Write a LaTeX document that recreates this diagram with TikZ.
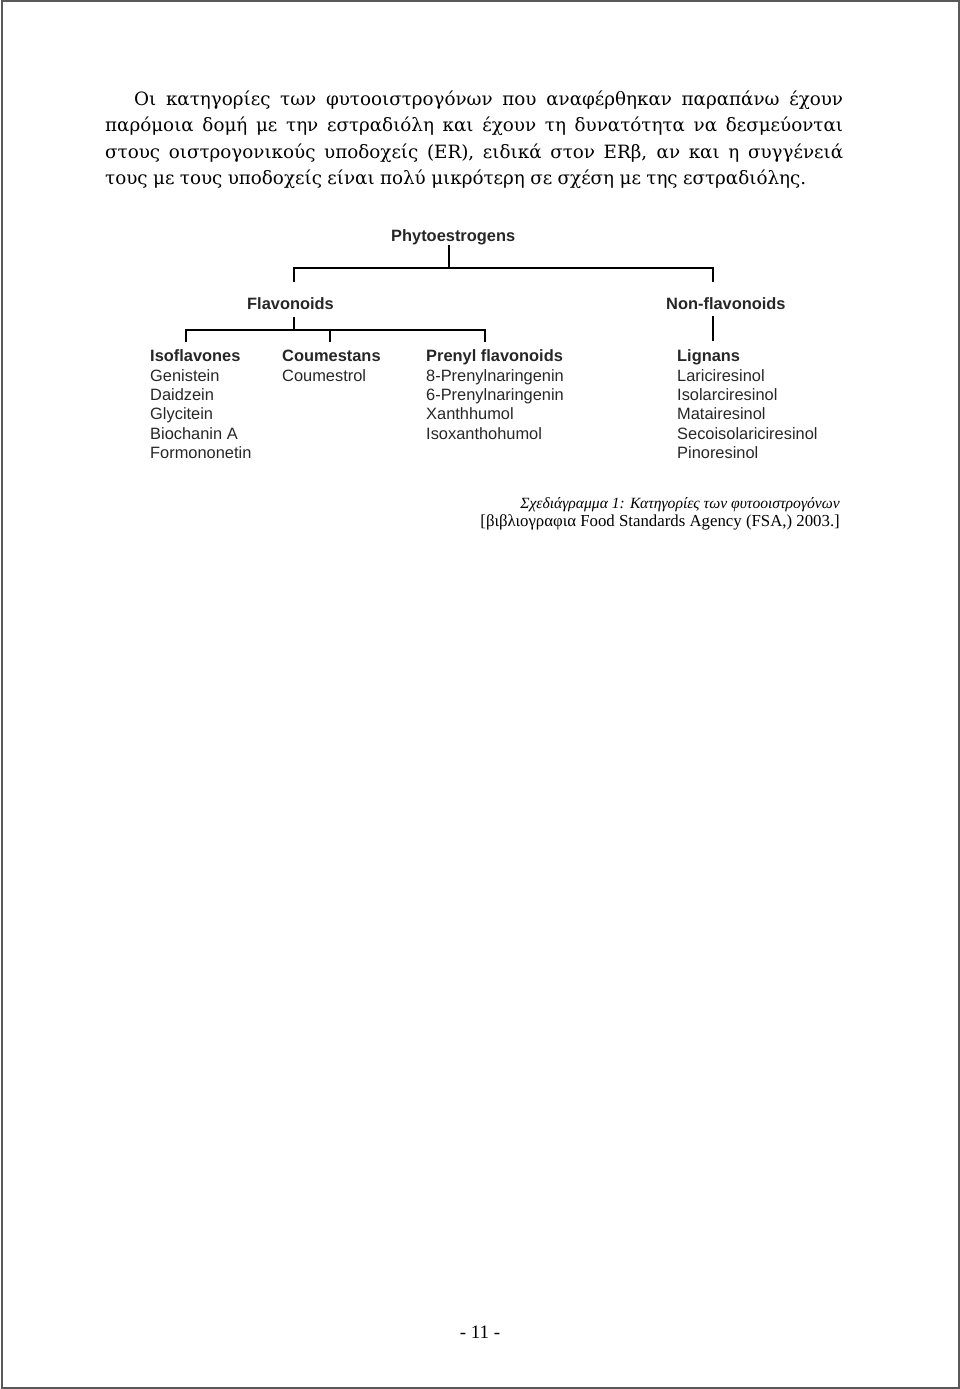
\documentclass[tikz,border=0pt]{standalone}
\usepackage{fontspec}
\setmainfont{Liberation Serif}
\newfontfamily\arialf{Liberation Sans}
\newfontfamily\bodyf{DejaVu Serif}
\begin{document}
\begin{tikzpicture}[x=1pt,y=-1pt,
  para/.style={anchor=base west,inner sep=0,font=\bodyf\fontsize{18.3}{24}\selectfont},
  dtext/.style={anchor=base west,inner sep=0,text=black!85,font=\arialf\fontsize{16.4}{19}\selectfont},
  dhead/.style={dtext,font=\arialf\bfseries\fontsize{16.4}{19}\selectfont},
  conn/.style={line width=1.8pt,black,line join=miter},
  frame/.style={draw=black!65,line width=2pt}]
\useasboundingbox (0,0) rectangle (960,1389);
\draw[frame] (1.5,1.5) rectangle (958.5,1387.5);
% paragraph
\node[para] (l1) at (134,105.5) {\makebox[709pt][s]{Οι κατηγορίες των φυτοοιστρογόνων που αναφέρθηκαν παραπάνω έχουν}};
\node[para] (l2) at (105,131.8) {\makebox[738pt][s]{παρόμοια δομή με την εστραδιόλη και έχουν τη δυνατότητα να δεσμεύονται}};
\node[para] (l3) at (105,158.1) {\makebox[738pt][s]{στους οιστρογονικούς υποδοχείς (ER), ειδικά στον ERβ, αν και η συγγένειά}};
\node[para] (l4) at (105,184.4) {\makebox[701pt][s]{τους με τους υποδοχείς είναι πολύ μικρότερη σε σχέση με της εστραδιόλης.}};
% diagram headers
\node[dhead] (P) at (391,241.7) {Phytoestrogens};
\node[dhead] (F) at (247,309.3) {Flavonoids};
\node[dhead] (N) at (666,309.3) {Non-flavonoids};
\node[dhead] (I) at (150,361.7) {Isoflavones};
\node[dhead] (C) at (282,361.7) {Coumestans};
\node[dhead] (R) at (426,361.7) {Prenyl flavonoids};
\node[dhead] (L) at (677,361.7) {Lignans};
% items
\node[dtext] (i1) at (150,381.0) {Genistein};
\node[dtext] (i2) at (150,400.3) {Daidzein};
\node[dtext] (i3) at (150,419.6) {Glycitein};
\node[dtext] (i4) at (150,439.0) {Biochanin A};
\node[dtext] (i5) at (150,458.3) {Formononetin};
\node[dtext] (c1) at (282,381.0) {Coumestrol};
\node[dtext] (r1) at (426,381.0) {8-Prenylnaringenin};
\node[dtext] (r2) at (426,400.3) {6-Prenylnaringenin};
\node[dtext] (r3) at (426,419.6) {Xanthhumol};
\node[dtext] (r4) at (426,439.0) {Isoxanthohumol};
\node[dtext] (g1) at (677,381.0) {Lariciresinol};
\node[dtext] (g2) at (677,400.3) {Isolarciresinol};
\node[dtext] (g3) at (677,419.6) {Matairesinol};
\node[dtext] (g4) at (677,439.0) {Secoisolariciresinol};
\node[dtext] (g5) at (677,458.3) {Pinoresinol};
% connector coordinates
\coordinate (pj) at (449,268);
\coordinate (pl) at (294,268);
\coordinate (pr) at (713,268);
\coordinate (plt) at (294,282);
\coordinate (prt) at (713,282);
\coordinate (fjt) at (294,317);
\coordinate (fj) at (294,330);
\coordinate (fl) at (186,330);
\coordinate (fm) at (330,330);
\coordinate (fr) at (485,330);
\coordinate (flt) at (186,342);
\coordinate (fmt) at (330,342);
\coordinate (frt) at (485,342);
\coordinate (njt) at (713,316);
\coordinate (nb) at (713,341);
\draw[conn] (pj |- P.south) -- (pj);
\draw[conn] (plt) -- (pl) -- (pr) -- (prt);
\draw[conn] (fjt) -- (fj);
\draw[conn] (flt) -- (fl) -- (fr) -- (frt);
\draw[conn] (fm) -- (fmt);
\draw[conn] (njt) -- (nb);
% caption
\node[anchor=base east,inner sep=0,font=\itshape\fontsize{15.6}{18}\selectfont] (cap1) at (840,508) {Σχεδιάγραμμα 1: Κατηγορίες των φυτοοιστρογόνων};
\node[anchor=base east,inner sep=0,font=\fontsize{16.8}{18}\selectfont] (cap2) at (840,526.5) {[βιβλιογραφια Food Standards Agency (FSA,) 2003.]};
% page number
\node[anchor=base,inner sep=0,font=\fontsize{19}{22}\selectfont] (pg) at (480,1338.5) {- 11 -};
\end{tikzpicture}
\end{document}
